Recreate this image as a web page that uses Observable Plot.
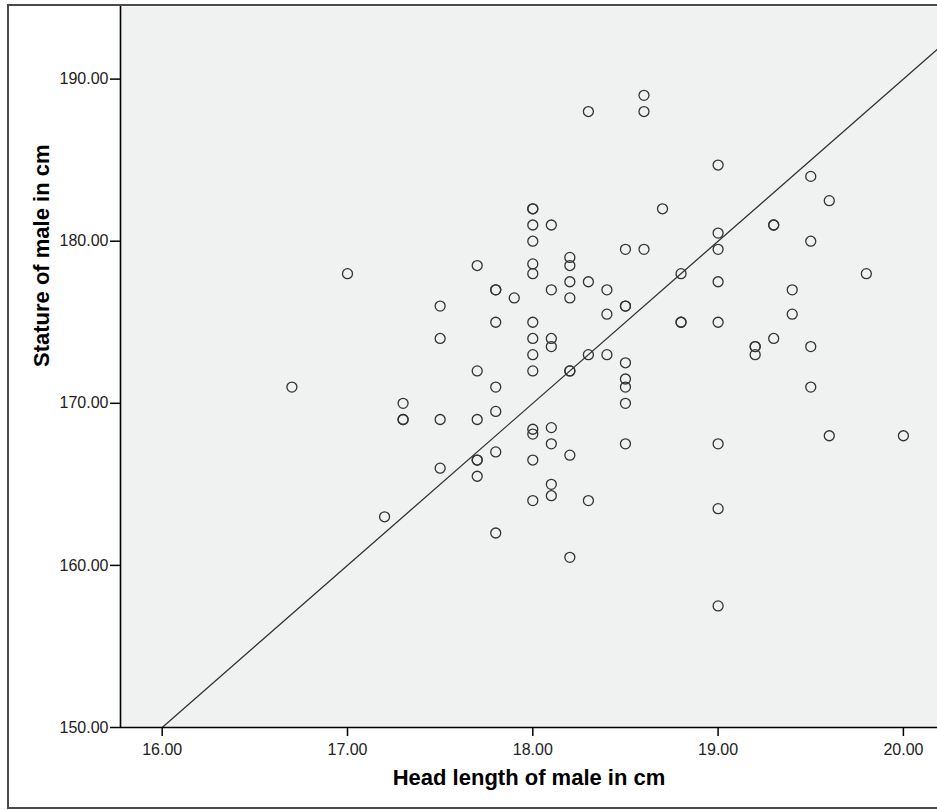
<!DOCTYPE html>
<html><head><meta charset="utf-8">
<script src="https://cdn.jsdelivr.net/npm/d3@7"></script>
<script src="https://cdn.jsdelivr.net/npm/@observablehq/plot@0.6"></script>
<style>
html,body{margin:0;padding:0;background:#fff;overflow:hidden;}
#wrap{position:relative;width:937px;height:810px;overflow:hidden;}
#chart{position:absolute;left:0;top:0;}
#frame{position:absolute;left:7px;top:4px;width:980px;height:805px;border:2px solid #4a4a4a;box-sizing:border-box;pointer-events:none;}
</style></head><body><div id="wrap"><div id="chart"></div><div id="frame"></div></div>
<script>
// Head length (cm) and stature (cm) of males
const headLength = [16.7,17.0,17.2,17.3,17.3,17.3,17.5,17.5,17.5,17.5,
  17.7,17.7,17.7,17.7,17.7,17.7,17.8,17.8,17.8,17.8,17.8,17.8,17.8,17.9,
  18.0,18.0,18.0,18.0,18.0,18.0,18.0,18.0,18.0,18.0,18.0,18.0,18.0,18.0,
  18.1,18.1,18.1,18.1,18.1,18.1,18.1,18.1,
  18.2,18.2,18.2,18.2,18.2,18.2,18.2,18.2,
  18.3,18.3,18.3,18.3,18.4,18.4,18.4,
  18.5,18.5,18.5,18.5,18.5,18.5,18.5,18.5,
  18.6,18.6,18.6,18.7,18.8,18.8,18.8,
  19.0,19.0,19.0,19.0,19.0,19.0,19.0,19.0,
  19.2,19.2,19.2,19.3,19.3,19.3,19.4,19.4,
  19.5,19.5,19.5,19.5,19.6,19.6,19.8,20.0];
const stature = [171,178,163,170,169,169,176,174,169,166,
  178.5,172,169,166.5,166.5,165.5,177,177,175,171,169.5,167,162,176.5,
  182,182,181,180,178.6,178,175,174,173,172,168.4,168.1,166.5,164,
  181,177,174,173.5,168.5,167.5,165,164.3,
  179,178.5,177.5,176.5,172,172,166.8,160.5,
  188,177.5,173,164,177,175.5,173,
  179.5,176,176,172.5,171.5,171,170,167.5,
  189,188,179.5,182,178,175,175,
  184.7,180.5,179.5,177.5,175,167.5,163.5,157.5,
  173.5,173.5,173,181,181,174,177,175.5,
  184,180,173.5,171,182.5,168,178,168];
// Fit line end points
const fitX = [16.0, 20.184];
const fitY = [150.0, 191.84];
// Axis ticks
const xTicks = [16, 17, 18, 19, 20];
const yTicks = [150, 160, 170, 180, 190];
const xDomain = [15.775, 20.184];
const yDomain = [150, 194.48];
const xTitle = "Head length of male in cm";
const yTitle = "Stature of male in cm";

const points = headLength.map((x, i) => ({x, y: stature[i]}));
const fit = fitX.map((x, i) => ({x, y: fitY[i]}));
const font = '"Liberation Sans", Arial, Helvetica, sans-serif';

const chart = Plot.plot({
  width: 937, height: 810,
  marginLeft: 120, marginRight: 0, marginTop: 6, marginBottom: 83,
  style: {fontFamily: font, background: "transparent", color: "#000"},
  x: {domain: xDomain},
  y: {domain: yDomain},
  marks: [
    Plot.frame({fill: "#f0f1f1", stroke: "none"}),
    Plot.line(fit, {x: "x", y: "y", stroke: "#333", strokeWidth: 1.3, clip: true}),
    Plot.dot(points, {x: "x", y: "y", r: 5, stroke: "#333", strokeWidth: 1.3, fill: "none"}),
    Plot.axisY({ticks: yTicks, tickSize: 10, tickPadding: 2, tickFormat: d => d.toFixed(2),
      fontSize: 16, fill: "#222", stroke: "#000", strokeWidth: 1.5, label: null}),
    Plot.axisX({ticks: xTicks, tickSize: 9, tickPadding: 7, tickFormat: d => d.toFixed(2),
      fontSize: 16, fill: "#222", stroke: "#000", strokeWidth: 1.5, label: null}),
    Plot.ruleY([yDomain[0]], {stroke: "#000", strokeWidth: 1.6}),
    Plot.ruleX([xDomain[0]], {stroke: "#000", strokeWidth: 1.6}),
    Plot.text([xTitle], {frameAnchor: "bottom", dy: 57, fontSize: 22, fontWeight: "bold", fill: "#000"}),
    Plot.text([yTitle], {frameAnchor: "left", dx: -79, rotate: -90, fontSize: 22, fontWeight: "bold", fill: "#000"})
  ]
});
document.getElementById("chart").appendChild(chart);
</script>
</body></html>
